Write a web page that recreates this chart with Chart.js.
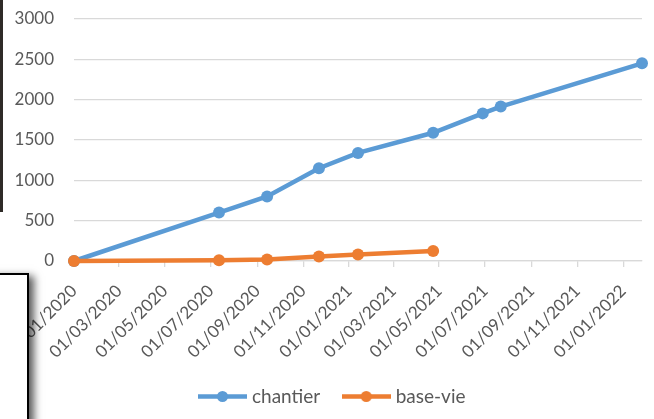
<!DOCTYPE html>
<html>
<head>
<meta charset="utf-8">
<script src="https://cdn.jsdelivr.net/npm/chart.js@4.4.0/dist/chart.umd.min.js"></script>
<style>
  body { margin: 0; background: #fff; }
  #wrap { position: relative; width: 654px; height: 419px; overflow: hidden; }
  #strip { position: absolute; left: 0; top: 0; width: 3px; height: 212px; background: #2e2a27; }
  #box { position: absolute; left: -10px; top: 273px; width: 35px; height: 200px; background: #fff;
         border: 2px solid #000; box-shadow: 5px 3px 8px rgba(0,0,0,0.65); }
</style>
</head>
<body>
<div id="wrap">
  <canvas id="chart" width="654" height="419"></canvas>
  <div id="strip"></div>
  <div id="box"></div>
</div>
<script>
// Données
const chantierDates = ['01/01/2020', '12/07/2020', '14/09/2020', '22/11/2020', '13/01/2021',
                       '23/04/2021', '28/06/2021', '22/07/2021', '26/01/2022'];
const chantierValues = [0, 600, 800, 1150, 1340, 1590, 1830, 1915, 2450];

const baseVieDates = ['01/01/2020', '12/07/2020', '14/09/2020', '22/11/2020', '13/01/2021', '23/04/2021'];
const baseVieValues = [0, 8, 18, 55, 80, 125];

const tickLabels = ['01/01/2020', '01/03/2020', '01/05/2020', '01/07/2020', '01/09/2020', '01/11/2020',
                    '01/01/2021', '01/03/2021', '01/05/2021', '01/07/2021', '01/09/2021', '01/11/2021',
                    '01/01/2022'];

const BLUE = '#5B9BD5';
const ORANGE = '#ED7D31';
const GREY = '#595959';

// jours depuis le 01/01/2020
function toDay(s) {
  const [d, m, y] = s.split('/').map(Number);
  return (Date.UTC(y, m - 1, d) - Date.UTC(2020, 0, 1)) / 864e5;
}

function points(dates, values) {
  return dates.map((d, i) => ({ x: toDay(d), y: values[i] }));
}

// petite image ligne + rond pour la légende
function legendIcon(color) {
  const c = document.createElement('canvas');
  c.width = 49; c.height = 13;
  const ctx = c.getContext('2d');
  ctx.strokeStyle = color;
  ctx.lineWidth = 4.5;
  ctx.beginPath();
  ctx.moveTo(0, 6.5); ctx.lineTo(49, 6.5);
  ctx.stroke();
  ctx.fillStyle = color;
  ctx.beginPath();
  ctx.arc(24.5, 6.5, 5.5, 0, Math.PI * 2);
  ctx.fill();
  return c;
}

// l'axe Y commence au bord gauche pour que ses libellés ne soient pas coupés
const yLeftPlugin = {
  id: 'yLeft',
  afterLayout(chart) { chart.scales.y.left = 0; }
};

const font = { family: 'Lato', size: 17 };

new Chart(document.getElementById('chart'), {
  type: 'line',
  data: {
    datasets: [
      {
        label: 'chantier',
        data: points(chantierDates, chantierValues),
        borderColor: BLUE,
        backgroundColor: BLUE,
        borderWidth: 4.5,
        pointRadius: 6,
        pointBorderWidth: 0,
        tension: 0,
        clip: false,
        order: 1
      },
      {
        label: 'base-vie',
        data: points(baseVieDates, baseVieValues),
        borderColor: ORANGE,
        backgroundColor: ORANGE,
        borderWidth: 4.5,
        pointRadius: 6,
        pointBorderWidth: 0,
        tension: 0,
        clip: false,
        order: 0
      }
    ]
  },
  plugins: [yLeftPlugin],
  options: {
    responsive: false,
    animation: false,
    layout: { padding: { top: 19, right: 12, left: 26, bottom: 3 } },
    plugins: {
      tooltip: { enabled: false },
      legend: {
        position: 'bottom',
        labels: {
          font: { family: 'Lato', size: 19 },
          color: GREY,
          usePointStyle: true,
          pointStyleWidth: 40,
          padding: 26,
          generateLabels: (chart) => chart.data.datasets.map((ds, i) => ({
            text: ds.label,
            pointStyle: legendIcon(ds.borderColor),
            fillStyle: ds.borderColor,
            strokeStyle: ds.borderColor,
            lineWidth: 0,
            fontColor: GREY,
            datasetIndex: i
          }))
        }
      }
    },
    scales: {
      x: {
        type: 'linear',
        min: toDay('01/01/2020'),
        max: toDay('26/01/2022'),
        afterBuildTicks: (s) => { s.ticks = tickLabels.map(t => ({ value: toDay(t) })); },
        afterFit: (s) => { s.paddingLeft = 0; s.paddingRight = 0; s.height = 100; },
        ticks: {
          autoSkip: false,
          minRotation: 45,
          maxRotation: 45,
          font: font,
          color: GREY,
          padding: 14,
          callback: (v, i) => tickLabels[i]
        },
        grid: { drawOnChartArea: false, color: '#D9D9D9', tickLength: 6, lineWidth: 1.3 },
        border: { color: '#D9D9D9', width: 1.3 }
      },
      y: {
        min: 0,
        max: 3000,
        afterFit: (s) => { s.width = 48; s.paddingTop = 0; s.paddingBottom = 0; },
        ticks: { stepSize: 500, font: font, color: GREY, padding: 20, callback: (v) => String(v) },
        grid: { color: '#D9D9D9', lineWidth: 1.3, drawTicks: false },
        border: { display: false }
      }
    }
  }
});
</script>
</body>
</html>
